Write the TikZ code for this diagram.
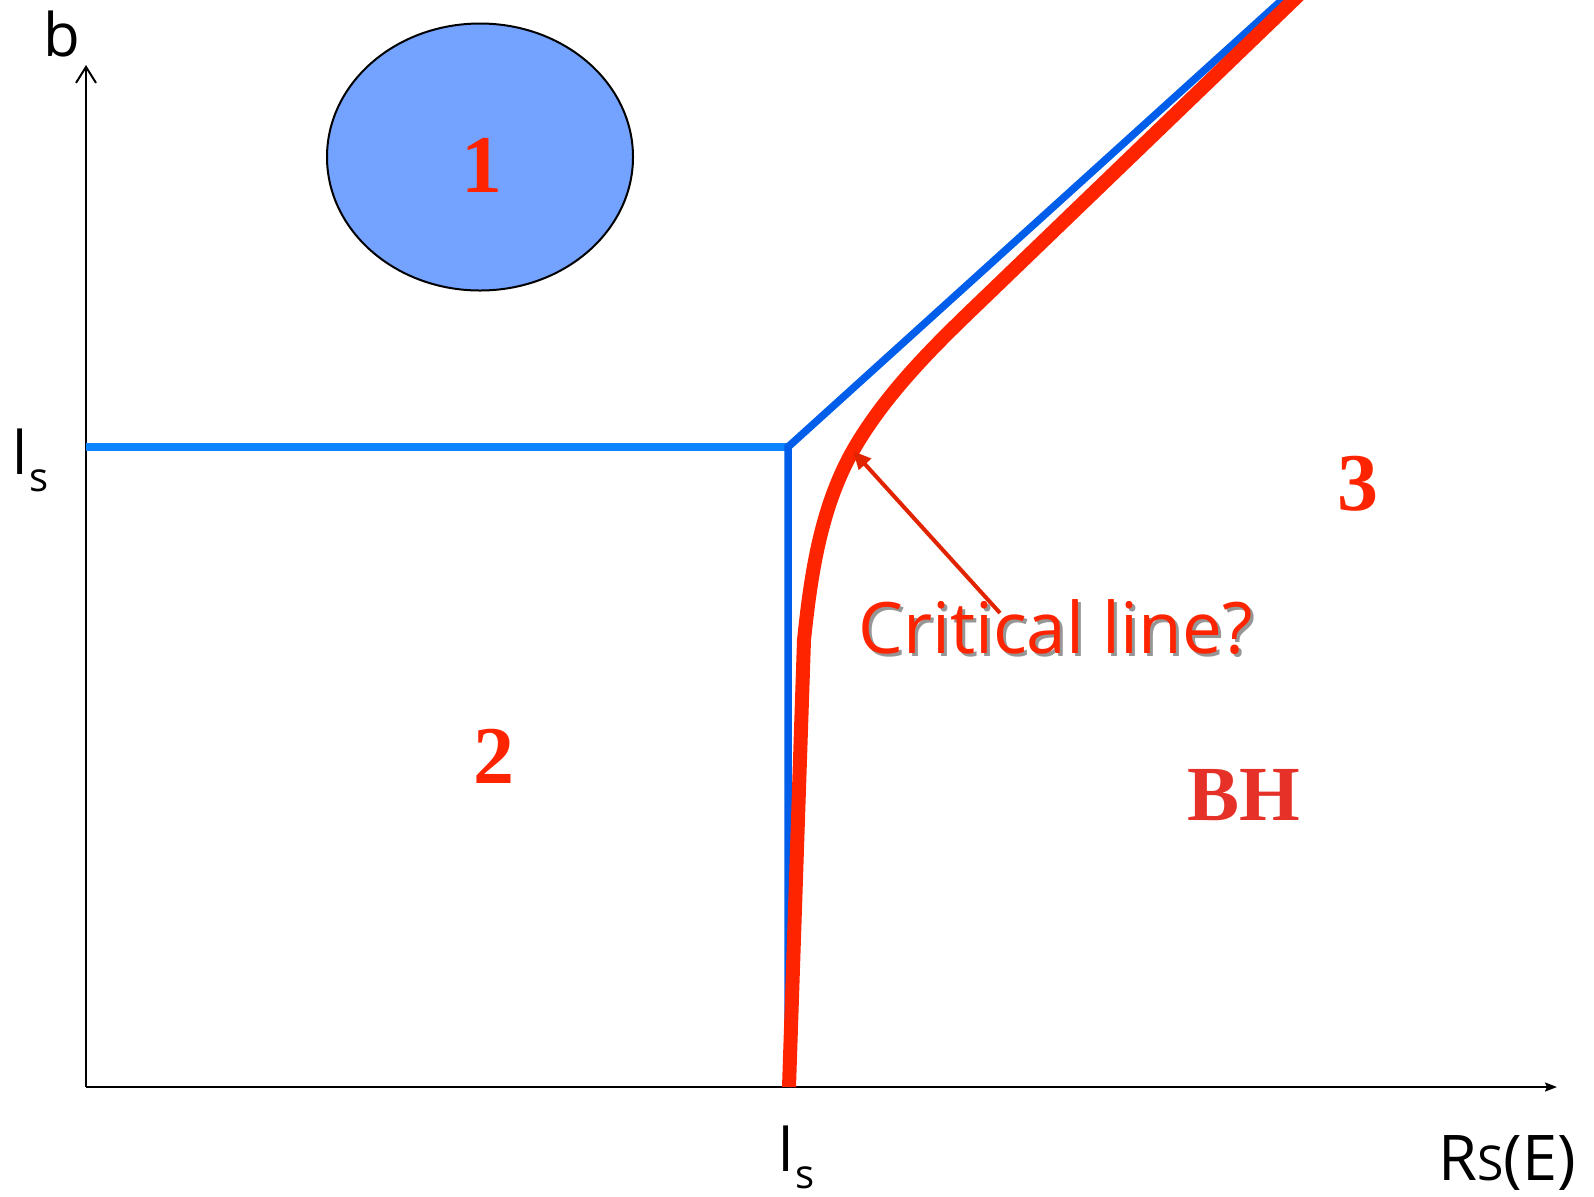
\documentclass[tikz,border=0pt]{standalone}
\usepackage{fontspec}
\setmainfont{Open Sans}
\newfontfamily\regionfont{Liberation Serif}
\usepackage{tikz}
\usetikzlibrary{positioning, arrows.meta, shapes.geometric}
\definecolor{LineRed}{RGB}{255,36,0}
\definecolor{LabelRed}{RGB}{229,49,39}
\definecolor{ArrowRed}{RGB}{225,35,0}
\definecolor{EdgeBlue}{RGB}{0,94,235}
\definecolor{SkyBlue}{RGB}{10,132,255}
\definecolor{BlobBlue}{RGB}{115,162,255}
\newcommand{\ellsub}{l\hspace{1pt}{\fontsize{20}{20}\selectfont\raisebox{-8.5pt}{s}}}
\tikzset{
  axisline/.style={line width=1pt, black},
  boundary/.style={line width=3.75pt, EdgeBlue, line join=miter},
  critcurve/.style={line width=7pt, LineRed, line join=round},
  axislabel/.style={inner sep=0pt, anchor=base west, font=\fontsize{30}{30}\selectfont},
  regionnum/.style={inner sep=0pt, anchor=base, text=LineRed, font=\regionfont\bfseries\fontsize{41}{41}\selectfont},
  critlabel/.style={inner sep=0pt, anchor=base west, text=LineRed, font=\fontsize{35.5}{35.5}\selectfont},
}

\begin{document}
\begin{tikzpicture}[x=0.5pt, y=-0.5pt]
  \useasboundingbox (0,0) rectangle (1594,1196);
  \clip (0,0) rectangle (1594,1196);
  \coordinate (O) at (86,1087);
  \coordinate (ytop) at (86,65);
  \coordinate (xend) at (1557,1087);
  \coordinate (K) at (788,447);
  \coordinate (Kleft) at (86,447);
  \coordinate (Kfoot) at (788,1087);
  \coordinate (blueend) at (1293,-10);
  \coordinate (redfoot) at (789,1087);
  \coordinate (redend) at (1304,-10);

  % axes
  \draw[axisline, -{Straight Barb[length=8pt, width=10pt]}] (O) -- (ytop);
  \draw[axisline, -{Stealth[length=6pt, width=4.5pt, inset=1pt]}] (O) -- (xend);

  % region 1
  \node[ellipse, draw=black, line width=1pt, fill=BlobBlue, minimum width=153pt, minimum height=133.5pt, inner sep=0pt] (blob) at (480,157) {};

  % boundaries
  \draw[boundary, SkyBlue] (Kleft) -- (K);
  \draw[boundary] (Kfoot) -- (K) -- (blueend);
  \draw[critcurve] (redfoot) -- (804,640)
    .. controls (811,573) and (821,505) .. (855,447)
    .. controls (888,391) and (935,345) .. (982,300) -- (redend);

  % labels
  \node[axislabel] (blabel) at (43,56) {b};
  \node[axislabel] (lsleft) at (12,474) {\ellsub};
  \node[axislabel] (lsbottom) at (778,1171) {\ellsub};
  \node[axislabel, font=\fontsize{31.5}{31.5}\selectfont] (rslabel) at (1438,1180) {R{\fontsize{24}{24}\selectfont S}(E)};

  \node[regionnum] (one) at (482,192) {1};
  \node[regionnum] (two) at (494,783) {2};
  \node[regionnum] (three) at (1358,510) {3};
  \node[regionnum, text=LabelRed, font=\regionfont\bfseries\fontsize{39}{39}\selectfont] (bh) at (1244,820) {BH};

  \node[critlabel, text=black!75, opacity=0.55] (critshadow) at (861,656) {Critical line?};
  \node[critlabel] (crit) at (858,653) {Critical line?};
  \coordinate (crittail) at (1000,613);
  \coordinate (crittip) at (853,451);
  \draw[ArrowRed, line width=2pt, -{Triangle[length=9pt, width=8pt]}] (crittail) -- (crittip);
\end{tikzpicture}
\end{document}
